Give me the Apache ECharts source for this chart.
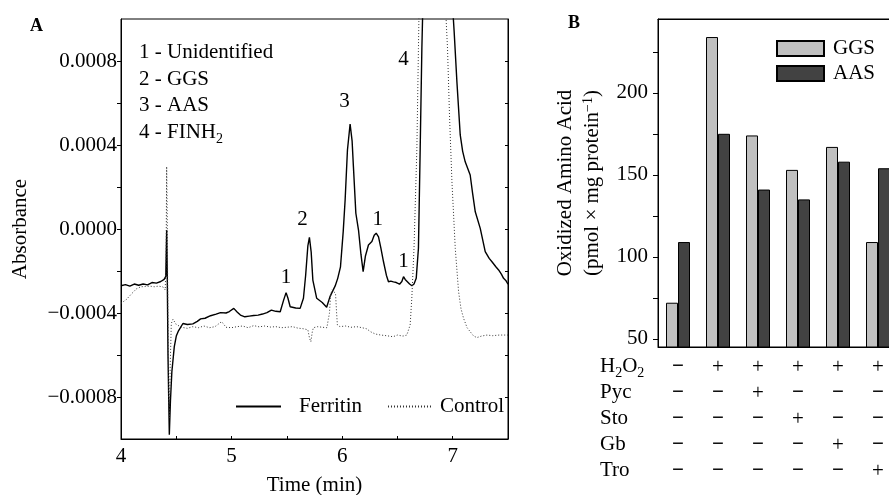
<!DOCTYPE html>
<html>
<head>
<meta charset="utf-8">
<script src="https://cdn.jsdelivr.net/npm/echarts@6/dist/echarts.min.js"></script>
<style>
  html, body { margin: 0; padding: 0; background: #fff; }
  #chart { width: 889px; height: 495px; }
</style>
</head>
<body>
<div id="chart"></div>
<script>
// A 图：色谱曲线 [时间(min), 吸光度]
var ferritinData = [
  [4.00, -0.000270], [4.04, -0.000265], [4.08, -0.000272], [4.12, -0.000262],
  [4.16, -0.000268], [4.20, -0.000262], [4.24, -0.000266], [4.28, -0.000255],
  [4.32, -0.000258], [4.36, -0.000250], [4.39, -0.000240], [4.405, -0.000225],
  [4.413, -0.000005], [4.418, -0.000200], [4.425, -0.000600], [4.437, -0.000980],
  [4.447, -0.000820], [4.46, -0.000680], [4.482, -0.000560], [4.50, -0.000510],
  [4.52, -0.000485], [4.56, -0.000450], [4.60, -0.000455], [4.65, -0.000452],
  [4.69, -0.000440], [4.72, -0.000428], [4.76, -0.000425], [4.81, -0.000413],
  [4.86, -0.000405], [4.90, -0.000398], [4.95, -0.000400], [4.98, -0.000393],
  [5.02, -0.000378], [5.05, -0.000395], [5.08, -0.000410], [5.12, -0.000418],
  [5.16, -0.000415], [5.20, -0.000412], [5.24, -0.000410], [5.28, -0.000405],
  [5.32, -0.000398], [5.36, -0.000386], [5.40, -0.000392], [5.44, -0.000394],
  [5.47, -0.000340], [5.493, -0.000303], [5.51, -0.000330], [5.53, -0.000370],
  [5.58, -0.000376], [5.62, -0.000378], [5.65, -0.000330], [5.67, -0.000220],
  [5.69, -0.000080], [5.704, -0.000040], [5.72, -0.000110], [5.735, -0.000243],
  [5.77, -0.000330], [5.82, -0.000350], [5.86, -0.000373], [5.89, -0.000322],
  [5.937, -0.000271], [5.96, -0.000235], [5.985, -0.000180], [6.01, -0.000010],
  [6.027, 0.000138], [6.048, 0.000376], [6.072, 0.000500], [6.09, 0.000420],
  [6.102, 0.000297], [6.124, 0.000075], [6.148, -0.000005], [6.17, -0.000120],
  [6.19, -0.000203], [6.21, -0.000130], [6.238, -0.000076], [6.269, -0.000060],
  [6.29, -0.000030], [6.308, -0.000020], [6.329, -0.000037], [6.35, -0.000090],
  [6.374, -0.000156], [6.40, -0.000220], [6.419, -0.000251], [6.44, -0.000248],
  [6.464, -0.000252], [6.49, -0.000255], [6.519, -0.000263], [6.54, -0.000250],
  [6.555, -0.000227], [6.57, -0.000240], [6.586, -0.000240], [6.61, -0.000262],
  [6.631, -0.000270], [6.65, -0.000262], [6.67, -0.000235], [6.69, -0.000092],
  [6.706, 0.000386], [6.721, 0.000860], [6.736, 0.001200], [6.80, 0.001600],
  [6.90, 0.001600], [6.99, 0.001200], [7.00, 0.001050], [7.013, 0.000940],
  [7.038, 0.000700], [7.068, 0.000448], [7.09, 0.000370], [7.113, 0.000320],
  [7.158, 0.000257], [7.18, 0.000170], [7.204, 0.000082], [7.249, 0.000003],
  [7.294, -0.000108], [7.33, -0.000140], [7.355, -0.000156], [7.39, -0.000180],
  [7.415, -0.000195], [7.44, -0.000215], [7.46, -0.000235], [7.48, -0.000245],
  [7.50, -0.000263]
];
var controlData = [
  [4.00, -0.000354], [4.05, -0.000335], [4.10, -0.000306], [4.14, -0.000285],
  [4.18, -0.000275], [4.22, -0.000274], [4.26, -0.000272], [4.30, -0.000275],
  [4.34, -0.000272], [4.38, -0.000276], [4.40, -0.000290], [4.408, -0.000150],
  [4.413, 0.000297], [4.418, 0.000050], [4.424, -0.000400], [4.432, -0.000850],
  [4.438, -0.000900], [4.445, -0.000650], [4.455, -0.000450], [4.47, -0.000430],
  [4.50, -0.000455], [4.55, -0.000468], [4.60, -0.000473], [4.65, -0.000465],
  [4.70, -0.000470], [4.75, -0.000462], [4.80, -0.000470], [4.85, -0.000465],
  [4.91, -0.000441], [4.95, -0.000468], [5.00, -0.000470], [5.05, -0.000465],
  [5.10, -0.000462], [5.15, -0.000470], [5.20, -0.000460], [5.25, -0.000466],
  [5.30, -0.000462], [5.35, -0.000467], [5.40, -0.000465], [5.45, -0.000470],
  [5.50, -0.000468], [5.55, -0.000465], [5.60, -0.000472], [5.65, -0.000475],
  [5.69, -0.000480], [5.705, -0.000520], [5.717, -0.000537], [5.73, -0.000490],
  [5.74, -0.000470], [5.78, -0.000465], [5.82, -0.000468], [5.862, -0.000470],
  [5.875, -0.000430], [5.885, -0.000402], [5.895, -0.000320], [5.907, -0.000290],
  [5.925, -0.000292], [5.94, -0.000306], [5.95, -0.000400], [5.957, -0.000457],
  [5.98, -0.000465], [6.03, -0.000462], [6.08, -0.000468], [6.13, -0.000465],
  [6.18, -0.000470], [6.22, -0.000475], [6.26, -0.000490], [6.30, -0.000500],
  [6.35, -0.000505], [6.40, -0.000508], [6.46, -0.000513], [6.50, -0.000505],
  [6.55, -0.000510], [6.585, -0.000505], [6.615, -0.000457], [6.63, -0.000330],
  [6.65, -0.000090], [6.676, 0.000386], [6.69, 0.000860], [6.70, 0.001200],
  [6.75, 0.001600], [6.90, 0.001600], [6.935, 0.001100], [6.941, 0.000990],
  [6.953, 0.000860], [6.971, 0.000540], [6.993, 0.000225], [7.023, -0.000092],
  [7.053, -0.000298], [7.075, -0.000380], [7.098, -0.000425], [7.13, -0.000470],
  [7.158, -0.000489], [7.19, -0.000510], [7.219, -0.000517], [7.26, -0.000510],
  [7.31, -0.000505], [7.36, -0.000508], [7.42, -0.000505], [7.50, -0.000505]
];
// 峰编号
var peakLabels = [
  { text: '1', t: 5.493, a: -0.000233 },
  { text: '2', t: 5.641, a: 0.000043 },
  { text: '3', t: 6.021, a: 0.000605 },
  { text: '1', t: 6.323, a: 0.000043 },
  { text: '1', t: 6.555, a: -0.000157 },
  { text: '4', t: 6.555, a: 0.000805 }
];
var absLabelTicks = [-0.0008, -0.0004, 0, 0.0004, 0.0008];
var absMinorTicks = [-0.0008, -0.0006, -0.0004, -0.0002, 0, 0.0002, 0.0004, 0.0006, 0.0008];

// B 图：柱状图
var groups = ['Control', 'H2O2', 'H2O2+Pyc', 'H2O2+Sto', 'H2O2+Gb', 'H2O2+Tro'];
var ggsValues = [72, 234, 174, 153, 167, 109];
var aasValues = [109, 175, 141, 135, 158, 154];
var rowH2O2 = ['−', '+', '+', '+', '+', '+'];
var rowPyc  = ['−', '−', '+', '−', '−', '−'];
var rowSto  = ['−', '−', '−', '+', '−', '−'];
var rowGb   = ['−', '−', '−', '−', '+', '−'];
var rowTro  = ['−', '−', '−', '−', '−', '+'];
var oxLabelTicks = [50, 100, 150, 200];
var oxTicks = [50, 75, 100, 125, 150, 175, 200, 225];

var FONT = 'Liberation Serif';
var FS = 21;
var signRows = [rowH2O2, rowPyc, rowSto, rowGb, rowTro];
// 下标样式
var subStyle = { fontFamily: FONT, fontSize: 14, lineHeight: 14, padding: [13, 0, 0, 0] };

var myChart = echarts.init(document.getElementById('chart'));
myChart.setOption({
  animation: false,
  backgroundColor: '#fff',
  textStyle: { fontFamily: FONT, color: '#000' },
  grid: [
    { left: 121, top: 19, width: 387, height: 420, outerBoundsMode: 'none', show: true, borderColor: '#000', borderWidth: 1 },
    // B 图右侧超出画布，被裁掉
    { left: 658, top: 19, width: 240, height: 328, outerBoundsMode: 'none', show: true, borderColor: '#000', borderWidth: 1 }
  ],
  legend: [
    {
      data: [
        { name: 'Ferritin', textStyle: { padding: [0, 0, 0, 13] } },
        { name: 'Control', textStyle: { padding: [0, 0, 0, 2] } }
      ],
      left: 235, top: 396, padding: 0,
      itemWidth: 45, itemHeight: 14, itemGap: 25,
      // 只要线段，不要圆点
      itemStyle: { opacity: 0 },
      textStyle: { fontFamily: FONT, fontSize: FS, color: '#000' }
    },
    {
      data: ['GGS', 'AAS'],
      orient: 'vertical',
      left: 776, top: 38, padding: 0,
      icon: 'rect',
      itemWidth: 47, itemHeight: 15, itemGap: 4,
      textStyle: { fontFamily: FONT, fontSize: FS, color: '#000', padding: [0, 0, 0, 4] }
    }
  ],
  xAxis: [
    {
      gridIndex: 0, type: 'value', min: 4, max: 7.5, interval: 0.5,
      name: 'Time (min)', nameLocation: 'middle', nameGap: 36,
      nameTextStyle: { fontFamily: FONT, fontSize: FS, color: '#000' },
      axisLine: { onZero: false, lineStyle: { color: '#000' } },
      axisTick: { inside: true, length: 3, lineStyle: { color: '#000' } },
      axisLabel: {
        fontFamily: FONT, fontSize: FS, color: '#000', margin: 7,
        formatter: function (v) { return Math.abs(v - Math.round(v)) < 1e-6 ? String(Math.round(v)) : ''; }
      },
      splitLine: { show: false }
    },
    {
      gridIndex: 1, type: 'category', data: groups,
      axisLine: { onZero: false, lineStyle: { color: '#000' } },
      axisTick: { inside: true, length: 3, lineStyle: { color: '#000' } },
      axisLabel: {
        interval: 0, margin: 7, color: '#000',
        formatter: function (value, index) {
          // 每一列的 +/− 组合
          return signRows.map(function (r) {
            return r[index] === '+' ? '{p|+}' : '{m|−}';
          }).join('\n');
        },
        rich: {
          p: { fontFamily: FONT, fontSize: FS, lineHeight: 26, color: '#000' },
          m: { fontFamily: FONT, fontSize: FS, lineHeight: 26, fontWeight: 'bold', color: '#000' }
        }
      }
    },
    {
      gridIndex: 1, type: 'category', data: groups, position: 'top',
      axisLine: { onZero: false, lineStyle: { color: '#000' } },
      axisTick: { inside: true, length: 3, lineStyle: { color: '#000' } },
      axisLabel: { show: false }
    }
  ],
  yAxis: [
    {
      gridIndex: 0, type: 'value', min: -0.001, max: 0.001, position: 'left',
      name: 'Absorbance', nameLocation: 'middle', nameGap: 90,
      nameTextStyle: { fontFamily: FONT, fontSize: FS, color: '#000' },
      axisLine: { show: true, onZero: false, lineStyle: { color: '#000' } },
      axisTick: { show: true, length: 4, customValues: absMinorTicks, lineStyle: { color: '#000' } },
      axisLabel: {
        customValues: absLabelTicks,
        fontFamily: FONT, fontSize: FS, color: '#000', margin: 4,
        formatter: function (v) {
          if (Math.abs(v) < 1e-9) return '0.0000';
          return v.toFixed(4).replace('-', '−');
        }
      },
      splitLine: { show: false }
    },
    {
      gridIndex: 0, type: 'value', min: -0.001, max: 0.001, position: 'right',
      axisLine: { show: true, onZero: false, lineStyle: { color: '#000' } },
      axisTick: { show: true, inside: true, length: 3, customValues: absMinorTicks, lineStyle: { color: '#000' } },
      axisLabel: { show: false },
      splitLine: { show: false }
    },
    {
      gridIndex: 1, type: 'value', min: 45, max: 245, position: 'left',
      name: 'Oxidized Amino Acid\n(pmol × mg protein{sup|−1})',
      nameLocation: 'middle', nameGap: 52,
      nameTextStyle: {
        fontFamily: FONT, fontSize: FS, lineHeight: 27, color: '#000',
        rich: { sup: { fontFamily: FONT, fontSize: 14, lineHeight: 14, padding: [0, 0, 9, 0] } }
      },
      axisLine: { show: true, onZero: false, lineStyle: { color: '#000' } },
      axisTick: { show: true, length: 5, customValues: oxTicks, lineStyle: { color: '#000' } },
      axisLabel: {
        customValues: oxLabelTicks,
        fontFamily: FONT, fontSize: FS, color: '#000', margin: 10
      },
      splitLine: { show: false }
    }
  ],
  graphic: [
    { type: 'text', left: 30, top: 17, style: { text: 'A', fontFamily: FONT, fontSize: 18, fontWeight: 'bold', fill: '#000' } },
    { type: 'text', left: 568, top: 14, style: { text: 'B', fontFamily: FONT, fontSize: 18, fontWeight: 'bold', fill: '#000' } },
    {
      type: 'text', left: 139, top: 39,
      style: {
        text: '1 - Unidentified\n2 - GGS\n3 - AAS\n4 - FINH{sub|2}',
        fontFamily: FONT, fontSize: FS, lineHeight: 26.7, fill: '#000',
        rich: { sub: subStyle }
      }
    },
    {
      type: 'text', left: 600, top: 353,
      style: {
        text: 'H{sub|2}O{sub|2}\nPyc\nSto\nGb\nTro',
        fontFamily: FONT, fontSize: FS, lineHeight: 26, fill: '#000',
        rich: { sub: subStyle }
      }
    }
  ],
  series: [
    {
      name: 'Ferritin', type: 'line', xAxisIndex: 0, yAxisIndex: 0,
      data: ferritinData, symbol: 'none', clip: true,
      lineStyle: { color: '#000', width: 1.4 },
      itemStyle: { color: '#000' },
      markPoint: {
        symbol: 'circle', symbolSize: 1,
        itemStyle: { color: 'rgba(0,0,0,0)' },
        label: {
          show: true, position: 'inside', formatter: '{b}',
          fontFamily: FONT, fontSize: FS, color: '#000'
        },
        data: peakLabels.map(function (p) { return { name: p.text, coord: [p.t, p.a] }; })
      }
    },
    {
      name: 'Control', type: 'line', xAxisIndex: 0, yAxisIndex: 0,
      data: controlData, symbol: 'none', clip: true,
      lineStyle: { color: '#333', width: 1, type: [1, 2] },
      itemStyle: { color: '#333' }
    },
    {
      name: 'GGS', type: 'bar', xAxisIndex: 1, yAxisIndex: 2,
      data: ggsValues, barWidth: 12, barGap: '0%',
      itemStyle: { color: '#c0c0c0', borderColor: '#000', borderWidth: 1 }
    },
    {
      name: 'AAS', type: 'bar', xAxisIndex: 1, yAxisIndex: 2,
      data: aasValues, barWidth: 12, barGap: '0%',
      itemStyle: { color: '#424242', borderColor: '#000', borderWidth: 1 }
    }
  ]
});
</script>
</body>
</html>
